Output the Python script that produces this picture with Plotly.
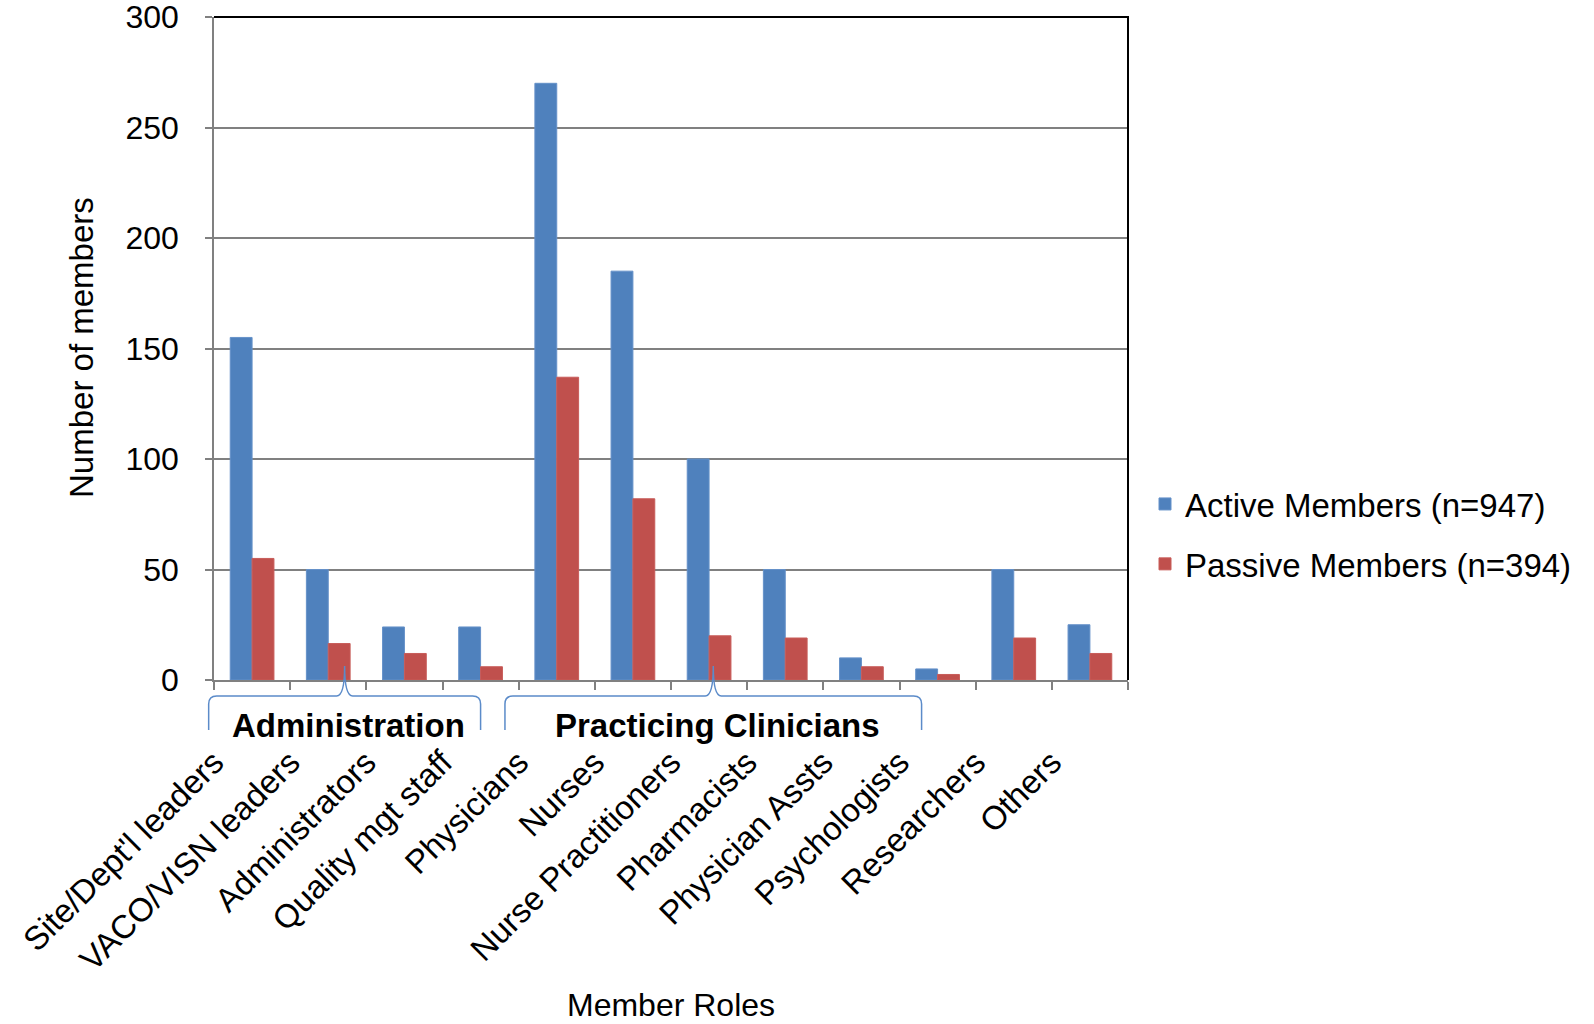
import plotly.graph_objects as go

# ---------------- data ----------------
roles = ["Site/Dept'l leaders", "VACO/VISN leaders", "Administrators", "Quality mgt staff",
         "Physicians", "Nurses", "Nurse Practitioners", "Pharmacists", "Physician Assts",
         "Psychologists", "Researchers", "Others"]
active_members = [155, 50, 24, 24, 270, 185, 100, 50, 10, 5, 50, 25]
passive_members = [55, 16.5, 12, 6, 137, 82, 20, 19, 6, 2.5, 19, 12]
series_names = ["Active Members (n=947)", "Passive Members (n=394)"]
y_ticks = [0, 50, 100, 150, 200, 250, 300]
group_labels = ["Administration", "Practicing Clinicians"]

# ---------------- layout constants ----------------
W, H = 1594, 1024
ML, MR, MT, MB = 214, 466, 17, 344
PW, PH = W - ML - MR, H - MT - MB
N = len(roles)
FONT = "Liberation Sans, Arial, sans-serif"
BLUE, RED = "#4F81BD", "#C0504D"
GRID = "#808080"

# bracket spans in category-index units (start, end)
bracket_spans = [(-0.57, 3.0), (3.32, 8.79)]

x_pos = list(range(N))                      # category positions
boundaries = [i - 0.5 for i in range(N + 1)]  # category boundaries (labels anchored at left edge)
tick_text = roles + [""]


def px_x(idx):
    """category index -> paper x"""
    return (idx + 0.5) / N


def py(Y):
    """pixel Y (from top of figure) -> paper y"""
    return (H - MB - Y) / PH


def pxp(X):
    """pixel X -> paper x"""
    return (X - ML) / PW


fig = go.Figure()
fig.add_trace(go.Bar(x=x_pos, y=active_members, name=series_names[0], legendgroup="a",
                     customdata=roles, hovertemplate="%{customdata}: %{y}<extra>Active</extra>",
                     marker=dict(color=BLUE, line=dict(color="#6591c9", width=1))))
fig.add_trace(go.Bar(x=x_pos, y=passive_members, name=series_names[1], legendgroup="p",
                     customdata=roles, hovertemplate="%{customdata}: %{y}<extra>Passive</extra>",
                     marker=dict(color=RED, line=dict(color="#c85c59", width=1))))

shapes = []
annotations = []
# top and right plot border (black)
shapes.append(dict(type="path", xref="paper", yref="paper",
                   path="M 0,1 L 1,1 L 1,0", line=dict(color="black", width=2)))

# curly brackets for groups
y_end, y_h, y_tip = 730, 696, 666
for (s, e), lab in zip(bracket_spans, group_labels):
    xl_px = ML + px_x(s) * PW
    xr_px = ML + px_x(e) * PW
    xc_px = (xl_px + xr_px) / 2
    pts = [
        ("M", [(xl_px, y_end)]),
        ("L", [(xl_px, y_h + 8)]),
        ("Q", [(xl_px, y_h), (xl_px + 8, y_h)]),
        ("L", [(xc_px - 8, y_h)]),
        ("Q", [(xc_px, y_h), (xc_px, y_tip)]),
        ("Q", [(xc_px, y_h), (xc_px + 8, y_h)]),
        ("L", [(xr_px - 8, y_h)]),
        ("Q", [(xr_px, y_h), (xr_px, y_h + 8)]),
        ("L", [(xr_px, y_end)]),
    ]
    path = " ".join(cmd + " " + " ".join(f"{pxp(X):.5f},{py(Y):.5f}" for X, Y in p) for cmd, p in pts)
    shapes.append(dict(type="path", xref="paper", yref="paper", path=path,
                       line=dict(color="#5B8BC9", width=1.5)))
    annotations.append(dict(text=f"<b>{lab}</b>", x=pxp(xc_px + 4), y=py(725), xref="paper", yref="paper",
                            showarrow=False, xanchor="center", yanchor="middle",
                            font=dict(family=FONT, size=33, color="black")))

# axis titles as annotations
annotations.append(dict(text="Number of members", x=pxp(81), y=py(348), xref="paper", yref="paper",
                        showarrow=False, textangle=-90, xanchor="center", yanchor="middle",
                        font=dict(family=FONT, size=33, color="black")))
annotations.append(dict(text="Member Roles", x=0.5, y=py(1005), xref="paper", yref="paper",
                        showarrow=False, xanchor="center", yanchor="middle",
                        font=dict(family=FONT, size=32, color="black")))

fig.update_layout(
    width=W, height=H,
    margin=dict(l=ML, r=MR, t=MT, b=MB, autoexpand=False),
    paper_bgcolor="white", plot_bgcolor="white",
    font=dict(family=FONT, size=33, color="black"),
    barmode="group", bargap=0.426, bargroupgap=0,
    showlegend=True,
    legend=dict(x=pxp(1145), y=py(534), xanchor="left", yanchor="middle", xref="paper", yref="paper",
                font=dict(family=FONT, size=33, color="black"), tracegroupgap=14,
                bgcolor="rgba(0,0,0,0)", traceorder="grouped"),
    shapes=shapes, annotations=annotations,
)
fig.update_xaxes(range=[-0.5, N - 0.5], tickmode="array", tickvals=boundaries, ticktext=tick_text,
                 ticks="outside", ticklen=8,
                 tickcolor=GRID, tickwidth=1.5, showline=True, linecolor=GRID, linewidth=1.5,
                 tickangle=-45, tickfont=dict(family=FONT, size=33, color="black"),
                 ticklabelstandoff=40, showgrid=False, zeroline=False, automargin=False,
                 ticklabeloverflow="allow")
fig.update_yaxes(range=[0, 300], tickvals=y_ticks, ticks="outside", ticklen=7, tickcolor=GRID,
                 tickwidth=1.5, showline=True, linecolor=GRID, linewidth=1.5,
                 showgrid=True, gridcolor=GRID, gridwidth=1.5, zeroline=False,
                 tickfont=dict(family=FONT, size=32, color="black"), ticklabelstandoff=20,
                 automargin=False, ticklabeloverflow="allow")

fig.write_html("out.html", config={"displayModeBar": False},
               post_script="document.body.style.margin='0px';document.body.style.overflow='hidden';")
